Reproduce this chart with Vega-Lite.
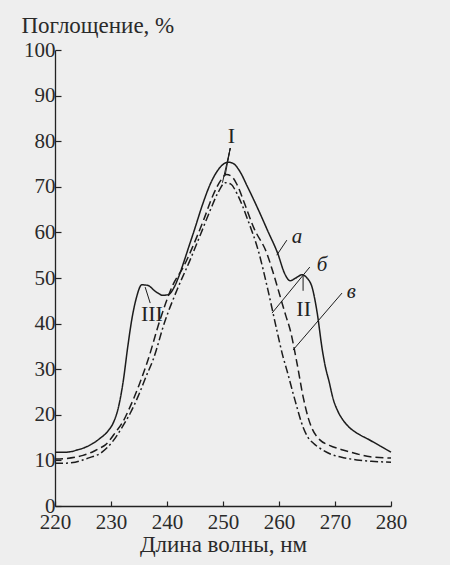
{
  "$schema": "https://vega.github.io/schema/vega-lite/v6.json",
  "width": 336,
  "height": 456,
  "autosize": "none",
  "padding": {"left": 55, "top": 50, "right": 59, "bottom": 59},
  "background": "#eeeeee",
  "config": {
    "view": {"stroke": null},
    "font": "Liberation Serif",
    "axis": {
      "grid": false,
      "domainColor": "#222222",
      "domainWidth": 1.3,
      "tickColor": "#222222",
      "tickWidth": 1.2,
      "labelColor": "#2a2a2a",
      "titleColor": "#2a2a2a",
      "labelFont": "Liberation Serif",
      "titleFont": "Liberation Serif",
      "labelFontSize": 21,
      "titleFontSize": 23,
      "titleFontWeight": "normal"
    }
  },
  "datasets": {
    "curves": [
      {"s": "a", "x": 220, "y": 11.8}, {"s": "a", "x": 222, "y": 11.8}, {"s": "a", "x": 224, "y": 12.3}, {"s": "a", "x": 226, "y": 13.2},
      {"s": "a", "x": 228, "y": 14.8}, {"s": "a", "x": 229.5, "y": 16.5}, {"s": "a", "x": 230.5, "y": 18.5}, {"s": "a", "x": 231.3, "y": 21.5},
      {"s": "a", "x": 232.2, "y": 27.5}, {"s": "a", "x": 233, "y": 35}, {"s": "a", "x": 233.7, "y": 40.8}, {"s": "a", "x": 234.5, "y": 45.5},
      {"s": "a", "x": 235.5, "y": 48.5}, {"s": "a", "x": 236.5, "y": 48.4}, {"s": "a", "x": 238, "y": 47}, {"s": "a", "x": 239.3, "y": 46.2},
      {"s": "a", "x": 240.3, "y": 46.4}, {"s": "a", "x": 241.2, "y": 47.8}, {"s": "a", "x": 242, "y": 50}, {"s": "a", "x": 243, "y": 53.5},
      {"s": "a", "x": 243.8, "y": 56.5}, {"s": "a", "x": 244.8, "y": 60.2}, {"s": "a", "x": 246.4, "y": 66.3}, {"s": "a", "x": 247.8, "y": 70.8},
      {"s": "a", "x": 248.9, "y": 73.3}, {"s": "a", "x": 250, "y": 74.9}, {"s": "a", "x": 250.9, "y": 75.4}, {"s": "a", "x": 251.7, "y": 75.2},
      {"s": "a", "x": 253, "y": 73.4}, {"s": "a", "x": 254.3, "y": 70.2}, {"s": "a", "x": 256.3, "y": 65}, {"s": "a", "x": 258, "y": 60.3},
      {"s": "a", "x": 259.8, "y": 55.3}, {"s": "a", "x": 261, "y": 51}, {"s": "a", "x": 262, "y": 49.4}, {"s": "a", "x": 263, "y": 50},
      {"s": "a", "x": 264.1, "y": 50.7}, {"s": "a", "x": 265, "y": 50}, {"s": "a", "x": 265.9, "y": 48}, {"s": "a", "x": 266.8, "y": 42.5},
      {"s": "a", "x": 267.7, "y": 34.5}, {"s": "a", "x": 268.2, "y": 31}, {"s": "a", "x": 269, "y": 27}, {"s": "a", "x": 269.6, "y": 23.8},
      {"s": "a", "x": 270.5, "y": 20.8}, {"s": "a", "x": 271.4, "y": 18.9}, {"s": "a", "x": 272.5, "y": 17.3}, {"s": "a", "x": 273.9, "y": 16},
      {"s": "a", "x": 276, "y": 14.6}, {"s": "a", "x": 278, "y": 13.2}, {"s": "a", "x": 280, "y": 11.8},

      {"s": "b", "x": 220, "y": 10.3}, {"s": "b", "x": 221.8, "y": 10.4}, {"s": "b", "x": 223.6, "y": 10.7}, {"s": "b", "x": 225, "y": 11.1},
      {"s": "b", "x": 226.6, "y": 11.8}, {"s": "b", "x": 228, "y": 12.7}, {"s": "b", "x": 229, "y": 13.4}, {"s": "b", "x": 230, "y": 14.8},
      {"s": "b", "x": 230.7, "y": 16}, {"s": "b", "x": 232, "y": 18.2}, {"s": "b", "x": 233.5, "y": 22}, {"s": "b", "x": 235, "y": 26.5},
      {"s": "b", "x": 236.6, "y": 32}, {"s": "b", "x": 238.75, "y": 40.8}, {"s": "b", "x": 241.1, "y": 48.6}, {"s": "b", "x": 243, "y": 52.6},
      {"s": "b", "x": 244.5, "y": 56.6}, {"s": "b", "x": 246.5, "y": 62.6}, {"s": "b", "x": 248.2, "y": 68.1}, {"s": "b", "x": 249.6, "y": 71.4},
      {"s": "b", "x": 250.6, "y": 72.7}, {"s": "b", "x": 251.6, "y": 72.2}, {"s": "b", "x": 252.5, "y": 70.5}, {"s": "b", "x": 253.8, "y": 66.5},
      {"s": "b", "x": 255.5, "y": 61}, {"s": "b", "x": 257.8, "y": 55.5}, {"s": "b", "x": 259, "y": 51}, {"s": "b", "x": 260.2, "y": 46},
      {"s": "b", "x": 261.2, "y": 41.8}, {"s": "b", "x": 262, "y": 38.6}, {"s": "b", "x": 263.2, "y": 31.4}, {"s": "b", "x": 264.3, "y": 24},
      {"s": "b", "x": 265.3, "y": 19}, {"s": "b", "x": 265.9, "y": 17}, {"s": "b", "x": 267.3, "y": 14.5}, {"s": "b", "x": 269, "y": 13.3},
      {"s": "b", "x": 271.4, "y": 12.3}, {"s": "b", "x": 274, "y": 11.4}, {"s": "b", "x": 276.3, "y": 10.8}, {"s": "b", "x": 280, "y": 10.5},

      {"s": "c", "x": 220, "y": 9.4}, {"s": "c", "x": 222, "y": 9.4}, {"s": "c", "x": 223.6, "y": 9.6}, {"s": "c", "x": 225.9, "y": 10.5},
      {"s": "c", "x": 228.4, "y": 11.8}, {"s": "c", "x": 230.2, "y": 14}, {"s": "c", "x": 232, "y": 17.3}, {"s": "c", "x": 233.5, "y": 20.5},
      {"s": "c", "x": 235, "y": 24.5}, {"s": "c", "x": 236.3, "y": 28.5}, {"s": "c", "x": 237.5, "y": 32}, {"s": "c", "x": 239.6, "y": 40.4},
      {"s": "c", "x": 242, "y": 48}, {"s": "c", "x": 244, "y": 53.6}, {"s": "c", "x": 246, "y": 59.6}, {"s": "c", "x": 247.7, "y": 64.8},
      {"s": "c", "x": 249.1, "y": 68.7}, {"s": "c", "x": 250.4, "y": 70.9}, {"s": "c", "x": 251.4, "y": 70.6}, {"s": "c", "x": 252.5, "y": 68.5},
      {"s": "c", "x": 254.5, "y": 62.5}, {"s": "c", "x": 256.3, "y": 56}, {"s": "c", "x": 258, "y": 47.5}, {"s": "c", "x": 259.6, "y": 38.6},
      {"s": "c", "x": 260.7, "y": 32.8}, {"s": "c", "x": 261.4, "y": 29.8}, {"s": "c", "x": 262.9, "y": 23}, {"s": "c", "x": 264.3, "y": 17.3},
      {"s": "c", "x": 265.2, "y": 15}, {"s": "c", "x": 266.1, "y": 13.8}, {"s": "c", "x": 267.5, "y": 12.5}, {"s": "c", "x": 269.6, "y": 11.2},
      {"s": "c", "x": 271.5, "y": 10.6}, {"s": "c", "x": 273.9, "y": 10.1}, {"s": "c", "x": 276.5, "y": 9.8}, {"s": "c", "x": 280, "y": 9.6}
    ],
    "pointers": [
      {"x": 259.6, "y": 55.0, "x2": 261.4, "y2": 58.3},
      {"x": 258.75, "y": 42.3, "x2": 265.5, "y2": 52.4},
      {"x": 262.5, "y": 34.2, "x2": 271.25, "y2": 46.7},
      {"x": 264.3, "y": 47.2, "x2": 264.3, "y2": 50.5},
      {"x": 236.1, "y": 48.0, "x2": 237.0, "y2": 44.5},
      {"x": 251.3, "y": 78.5, "x2": 250.8, "y2": 75.4},
      {"x": 251.3, "y": 78.5, "x2": 250.4, "y2": 72.6},
      {"x": 251.3, "y": 78.5, "x2": 249.9, "y2": 70.9}
    ],
    "roman": [
      {"x": 251.5, "y": 81.2, "t": "I"},
      {"x": 264.4, "y": 43.3, "t": "II"},
      {"x": 237.3, "y": 42.0, "t": "III"}
    ],
    "italic": [
      {"x": 263.2, "y": 58.9, "t": "а"},
      {"x": 267.7, "y": 52.8, "t": "б"},
      {"x": 272.9, "y": 46.9, "t": "в"}
    ]
  },
  "layer": [
    {
      "data": {"name": "curves"},
      "mark": {"type": "line", "color": "#1c1c1c", "strokeWidth": 1.5, "interpolate": "monotone"},
      "encoding": {
        "x": {
          "field": "x", "type": "quantitative",
          "scale": {"domain": [220, 280], "nice": false, "zero": false},
          "axis": {
            "values": [220, 225, 230, 235, 240, 245, 250, 255, 260, 265, 270, 275, 280],
            "labelExpr": "datum.value % 10 == 0 ? datum.label : ''",
            "tickSize": -5,
            "labelPadding": 10,
            "labelFlush": false,
            "labelOverlap": false,
            "title": "Длина волны, нм",
            "titlePadding": 1
          }
        },
        "y": {
          "field": "y", "type": "quantitative",
          "scale": {"domain": [0, 100], "nice": false},
          "axis": {
            "values": [0, 10, 20, 30, 40, 50, 60, 70, 80, 90, 100],
            "tickSize": -6,
            "labelPadding": 6,
            "labelFlush": false,
            "labelOverlap": false,
            "title": "Поглощение, %",
            "titleAngle": 0,
            "titleAlign": "left",
            "titleBaseline": "middle",
            "titleX": -34,
            "titleY": -25
          }
        },
        "detail": {"field": "s"},
        "strokeDash": {
          "field": "s", "type": "nominal",
          "scale": {"domain": ["a", "b", "c"], "range": [[1, 0], [8, 4], [8, 3, 2, 3]]},
          "legend": null
        }
      }
    },
    {
      "data": {"name": "pointers"},
      "mark": {"type": "rule", "color": "#1c1c1c", "strokeWidth": 1},
      "encoding": {
        "x": {"field": "x", "type": "quantitative"},
        "y": {"field": "y", "type": "quantitative"},
        "x2": {"field": "x2"},
        "y2": {"field": "y2"}
      }
    },
    {
      "data": {"name": "roman"},
      "mark": {"type": "text", "font": "Liberation Serif", "fontSize": 22, "color": "#222222", "align": "center", "baseline": "middle"},
      "encoding": {
        "x": {"field": "x", "type": "quantitative"},
        "y": {"field": "y", "type": "quantitative"},
        "text": {"field": "t"}
      }
    },
    {
      "data": {"name": "italic"},
      "mark": {"type": "text", "font": "Liberation Serif", "fontStyle": "italic", "fontSize": 21, "color": "#222222", "align": "center", "baseline": "middle"},
      "encoding": {
        "x": {"field": "x", "type": "quantitative"},
        "y": {"field": "y", "type": "quantitative"},
        "text": {"field": "t"}
      }
    }
  ]
}
